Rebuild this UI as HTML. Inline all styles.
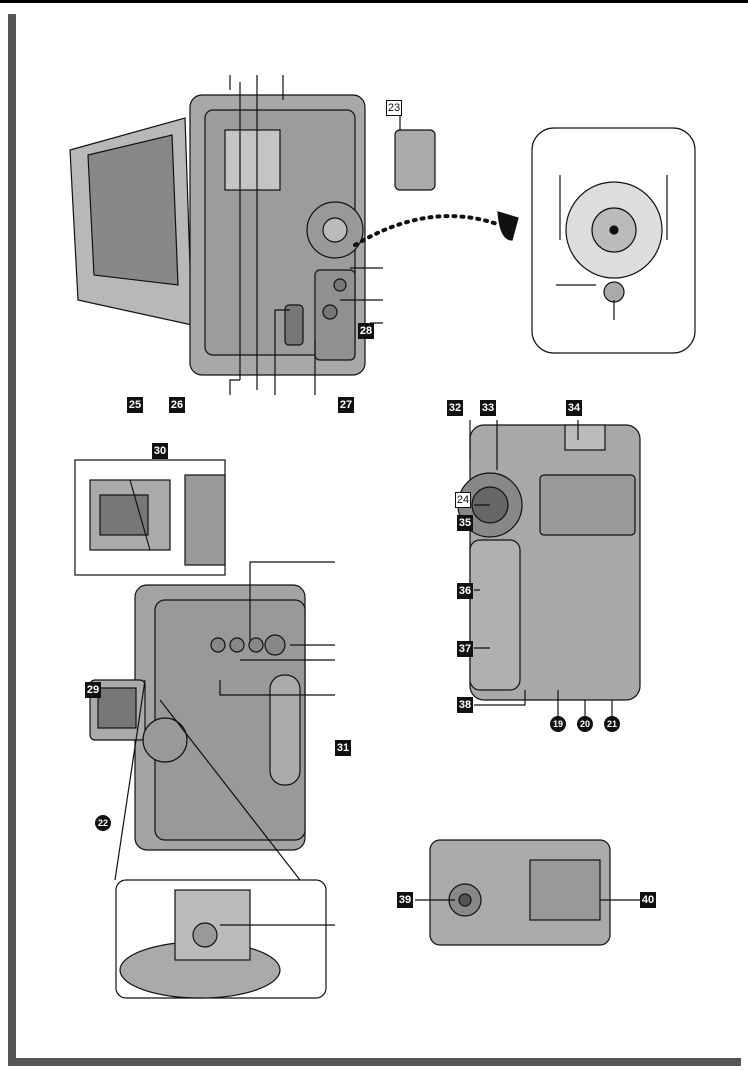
<!DOCTYPE html>
<html><head><meta charset="utf-8"><style>
body{margin:0;width:748px;height:1070px;background:#fff;position:relative;overflow:hidden;font-family:"Liberation Sans",sans-serif}
.b{position:absolute;width:16px;height:16px;background:#111;color:#fff;font-size:11px;font-weight:bold;text-align:center;line-height:16px}
.o{position:absolute;width:14px;height:14px;border:1px solid #111;color:#111;font-size:11px;text-align:center;line-height:14px;background:#fff}
.c{position:absolute;width:16px;height:16px;border-radius:50%;background:#111;color:#fff;font-size:9px;font-weight:bold;text-align:center;line-height:16px}
</style></head><body>
<div style="position:absolute;left:0;top:0;width:748px;height:3px;background:#000"></div>
<div style="position:absolute;left:8px;top:14px;width:8px;height:1052px;background:#555"></div>
<div style="position:absolute;left:8px;top:1058px;width:733px;height:8px;background:#555"></div>
<svg width="748" height="1070" style="position:absolute;left:0;top:0" stroke="#111" fill="none" stroke-width="1.2">
<!-- top camera -->
<polygon points="70,150 185,118 192,325 78,300" fill="#b8b8b8"/>
<polygon points="88,155 172,135 178,285 94,275" fill="#888"/>
<rect x="190" y="95" width="175" height="280" rx="12" fill="#a8a8a8"/>
<rect x="205" y="110" width="150" height="245" rx="8" fill="#9c9c9c"/>
<rect x="225" y="130" width="55" height="60" fill="#c4c4c4"/>
<rect x="395" y="130" width="40" height="60" rx="5" fill="#aaa"/>
<circle cx="335" cy="230" r="28" fill="#999"/><circle cx="335" cy="230" r="12" fill="#bbb"/>
<rect x="315" y="270" width="40" height="90" rx="5" fill="#909090"/>
<circle cx="340" cy="285" r="6" fill="#777"/><circle cx="330" cy="312" r="7" fill="#777"/>
<rect x="285" y="305" width="18" height="40" rx="4" fill="#777"/>
<!-- dotted arrow -->
<path d="M355,245 Q430,200 500,225" stroke-dasharray="2,6" stroke-width="4" stroke-linecap="round"/>
<path d="M498,212 L518,218 L512,240 Q500,240 498,212Z" fill="#111"/>
<rect x="532" y="128" width="163" height="225" rx="22"/>
<circle cx="614" cy="230" r="48" fill="#ddd"/><circle cx="614" cy="230" r="22" fill="#bbb"/><circle cx="614" cy="230" r="4" fill="#111"/>
<circle cx="614" cy="292" r="10" fill="#aaa"/>
<path d="M560,175V240 M667,175V240 M556,285H596 M614,300V320"/>
<!-- leader lines top -->
<path d="M230,75V90 M257,75V390 M283,75V100 M400,110V130 M240,82V380 M230,395V380H240 M315,395V340 M383,268H350 M383,300H340 M383,323H370 M275,395V310H290"/>
<!-- left middle camera -->
<rect x="75" y="460" width="150" height="115" fill="#fff"/>
<rect x="90" y="480" width="80" height="70" fill="#aaa"/><rect x="100" y="495" width="48" height="40" fill="#777"/>
<rect x="185" y="475" width="40" height="90" fill="#999"/>
<rect x="135" y="585" width="170" height="265" rx="12" fill="#a4a4a4"/>
<rect x="155" y="600" width="150" height="240" rx="10" fill="#999"/>
<rect x="270" y="675" width="30" height="110" rx="14" fill="#aaa"/>
<rect x="90" y="680" width="55" height="60" rx="5" fill="#aaa"/><rect x="98" y="688" width="38" height="40" fill="#777"/>
<circle cx="275" cy="645" r="10" fill="#888"/><circle cx="256" cy="645" r="7" fill="#888"/><circle cx="237" cy="645" r="7" fill="#888"/><circle cx="218" cy="645" r="7" fill="#888"/>
<circle cx="165" cy="740" r="22" fill="#999"/>
<path d="M145,680 L115,880 M160,700 L300,880 M250,640V562H335 M290,645H335 M240,660H335 M220,680V695H335 M150,550L130,480"/>
<rect x="116" y="880" width="210" height="118" rx="10" fill="#fff"/>
<ellipse cx="200" cy="970" rx="80" ry="28" fill="#aaa"/>
<rect x="175" y="890" width="75" height="70" fill="#bbb"/><circle cx="205" cy="935" r="12" fill="#999"/>
<path d="M220,925H335"/>
<!-- right middle camera -->
<rect x="470" y="425" width="170" height="275" rx="14" fill="#a8a8a8"/>
<circle cx="490" cy="505" r="32" fill="#888"/><circle cx="490" cy="505" r="18" fill="#666"/>
<rect x="470" y="540" width="50" height="150" rx="10" fill="#b0b0b0"/>
<rect x="540" y="475" width="95" height="60" rx="4" fill="#999"/>
<rect x="565" y="425" width="40" height="25" fill="#bbb"/>
<path d="M470,420V460 M497,420V470 M578,420V440 M474,505H490 M474,590H480 M474,648H490 M474,705H525V690 M558,716V690 M585,716V700 M612,716V700"/>
<!-- bottom right -->
<rect x="430" y="840" width="180" height="105" rx="10" fill="#aaa"/>
<rect x="530" y="860" width="70" height="60" fill="#999"/>
<circle cx="465" cy="900" r="16" fill="#888"/><circle cx="465" cy="900" r="6" fill="#555"/>
<path d="M415,900H455 M600,900H640"/>
</svg>
<div class="b" style="left:127px;top:397px">25</div>
<div class="b" style="left:169px;top:397px">26</div>
<div class="b" style="left:338px;top:397px">27</div>
<div class="b" style="left:358px;top:323px">28</div>
<div class="o" style="left:386px;top:100px">23</div>
<div class="b" style="left:152px;top:443px">30</div>
<div class="b" style="left:85px;top:682px">29</div>
<div class="b" style="left:335px;top:740px">31</div>
<div class="c" style="left:95px;top:815px">22</div>
<div class="b" style="left:447px;top:400px">32</div>
<div class="b" style="left:480px;top:400px">33</div>
<div class="b" style="left:566px;top:400px">34</div>
<div class="o" style="left:455px;top:492px">24</div>
<div class="b" style="left:457px;top:515px">35</div>
<div class="b" style="left:457px;top:583px">36</div>
<div class="b" style="left:457px;top:641px">37</div>
<div class="b" style="left:457px;top:697px">38</div>
<div class="c" style="left:550px;top:716px">19</div>
<div class="c" style="left:577px;top:716px">20</div>
<div class="c" style="left:604px;top:716px">21</div>
<div class="b" style="left:397px;top:892px">39</div>
<div class="b" style="left:640px;top:892px">40</div>
</body></html>
